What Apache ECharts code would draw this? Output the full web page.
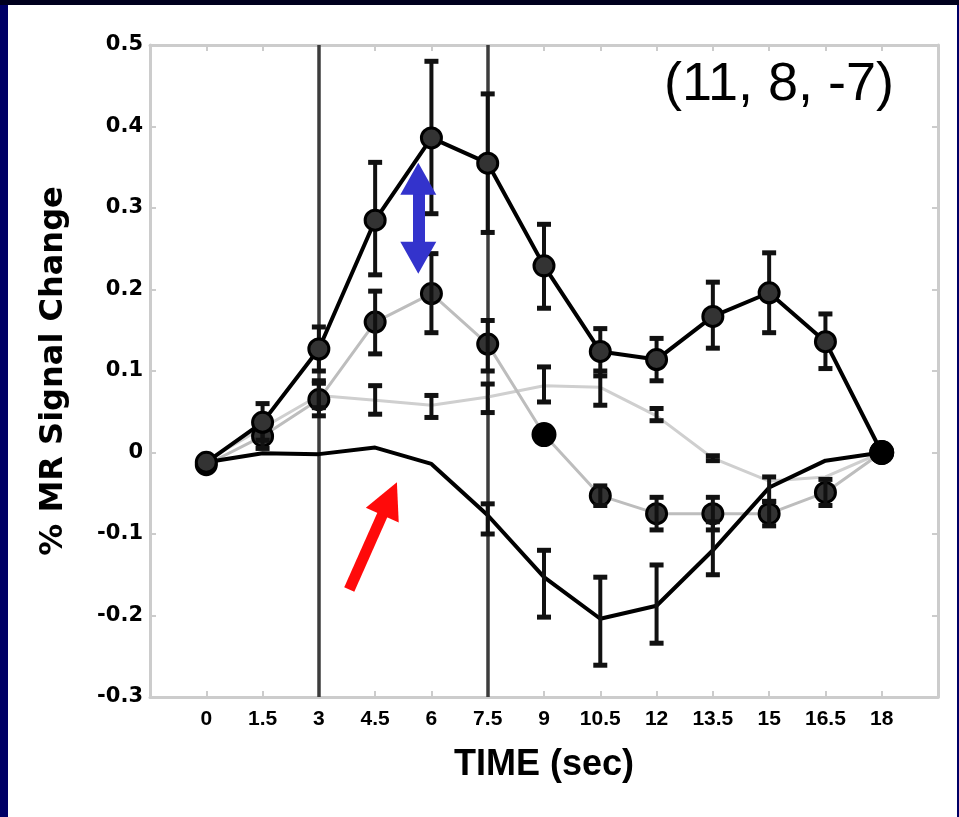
<!DOCTYPE html>
<html>
<head>
<meta charset="utf-8">
<script src="https://cdn.jsdelivr.net/npm/echarts@6/dist/echarts.min.js"></script>
<style>
  html, body { margin:0; padding:0; width:959px; height:817px; background:#000066; overflow:hidden; }
  #topstrip { position:absolute; left:0; top:0; width:959px; height:5px; background:#00001e; }
  #paper { position:absolute; left:8px; top:5px; width:949px; height:812px; background:#ffffff; }
  #chart { position:absolute; left:0; top:0; width:959px; height:817px; }
</style>
</head>
<body>
<div id="topstrip"></div>
<div id="paper"></div>
<div id="chart"></div>
<script>
// ---- data ----
const times = [0, 1.5, 3, 4.5, 6, 7.5, 9, 10.5, 12, 13.5, 15, 16.5, 18];
const xTickLabels = ['0', '1.5', '3', '4.5', '6', '7.5', '9', '10.5', '12', '13.5', '15', '16.5', '18'];
const yTickLabels = ['-0.3', '-0.2', '-0.1', '0', '0.1', '0.2', '0.3', '0.4', '0.5'];

const blackTop      = [-0.012, 0.037, 0.127, 0.285, 0.386, 0.355, 0.229, 0.124, 0.114, 0.167, 0.196, 0.136, 0.0];
const blackTopLow   = [null, 0.015, 0.100, 0.218, 0.293, 0.270, 0.177, 0.094, 0.088, 0.128, 0.147, 0.103, null];
const blackTopHigh  = [null, 0.060, 0.154, 0.356, 0.480, 0.440, 0.280, 0.152, 0.140, 0.209, 0.245, 0.170, null];

const grayCircle     = [-0.015, 0.020, 0.065, 0.160, 0.195, 0.133, 0.022, -0.053, -0.075, -0.075, -0.075, -0.049, 0.0];
const grayCircleLow  = [null, 0.005, 0.045, 0.121, 0.147, 0.100, null, -0.065, -0.095, -0.095, -0.090, -0.065, null];
const grayCircleHigh = [null, 0.035, 0.085, 0.198, 0.244, 0.162, null, -0.041, -0.055, -0.055, -0.060, -0.033, null];

const grayFlat     = [-0.010, 0.030, 0.070, 0.064, 0.058, 0.068, 0.082, 0.080, 0.045, -0.007, -0.035, -0.030, 0.0];
const grayFlatLow  = [null, null, 0.055, 0.047, 0.043, 0.049, 0.062, 0.058, 0.039, -0.010, null, null, null];
const grayFlatHigh = [null, null, 0.088, 0.082, 0.070, 0.084, 0.105, 0.100, 0.054, -0.004, null, null, null];

const blackBottom     = [-0.012, -0.001, -0.002, 0.006, -0.014, -0.077, -0.153, -0.204, -0.188, -0.120, -0.043, -0.010, 0.0];
const blackBottomLow  = [null, null, null, null, null, -0.100, -0.202, -0.261, -0.234, -0.150, -0.060, null, null];
const blackBottomHigh = [null, null, null, null, null, -0.063, -0.120, -0.153, -0.138, -0.085, -0.030, null, null];

const stimulusLines = [3, 7.5];
// annotation arrows (data coordinates)
const blueArrow = [[5.65, 0.336], [5.65, 0.239]];
const redArrow  = [[3.81, -0.168], [4.885, -0.0566]];
const coordLabel = '(11, 8, -7)';

// ---- build ----
const chart = echarts.init(document.getElementById('chart'), null, {renderer: 'canvas'});

function pairs(vals, solidIdx) {
  return times.map((t, i) => {
    const d = {value: [t, vals[i]]};
    if (solidIdx && solidIdx.indexOf(i) >= 0) {
      d.itemStyle = {color: '#000', borderColor: '#000'};
      d.symbolSize = 22;
    }
    return d;
  });
}
function errData(lo, hi) {
  const out = [];
  times.forEach((t, i) => { if (lo[i] !== null && hi[i] !== null) out.push([t, lo[i], hi[i]]); });
  return out;
}
const allErr = [].concat(
  errData(grayFlatLow, grayFlatHigh),
  errData(grayCircleLow, grayCircleHigh),
  errData(blackBottomLow, blackBottomHigh),
  errData(blackTopLow, blackTopHigh)
);

function renderErr(params, api) {
  const x = api.value(0), lo = api.value(1), hi = api.value(2);
  const a = api.coord([x, lo]), b = api.coord([x, hi]);
  const cw = 7;
  const st = {stroke: '#111', lineWidth: 4};
  const cap = {stroke: '#111', lineWidth: 5};
  return {type: 'group', children: [
    {type: 'line', shape: {x1: a[0], y1: a[1], x2: b[0], y2: b[1]}, style: st},
    {type: 'line', shape: {x1: a[0] - cw, y1: a[1], x2: a[0] + cw, y2: a[1]}, style: cap},
    {type: 'line', shape: {x1: b[0] - cw, y1: b[1], x2: b[0] + cw, y2: b[1]}, style: cap}
  ]};
}

const axisGray = '#cccccc';
const sansBold = '"Liberation Sans", Arial, sans-serif';

const baseX = {
  type: 'value', min: -1.5, max: 19.5, interval: 1.5,
  axisLine: {show: true, onZero: false, lineStyle: {color: axisGray, width: 3}},
  axisTick: {show: true, inside: true, length: 6, lineStyle: {color: axisGray, width: 2}},
  splitLine: {show: false}
};
const baseY = {
  type: 'value', min: -0.3, max: 0.5, interval: 0.1,
  axisLine: {show: true, onZero: false, lineStyle: {color: axisGray, width: 3}},
  axisTick: {show: true, inside: true, length: 6, lineStyle: {color: axisGray, width: 2}},
  splitLine: {show: false}
};

function xLabel(v) {
  const i = times.findIndex(t => Math.abs(t - v) < 1e-6);
  return i >= 0 ? xTickLabels[i] : '';
}
function yLabel(v) {
  const i = Math.round((v + 0.3) / 0.1);
  return yTickLabels[i] !== undefined ? yTickLabels[i] : '';
}

const option = {
  animation: false,
  backgroundColor: 'transparent',
  grid: {left: 150, right: 21, top: 45, bottom: 120, containLabel: false},
  xAxis: [
    Object.assign({}, baseX, {
      position: 'bottom',
      name: 'TIME (sec)', nameLocation: 'middle', nameGap: 50,
      nameTextStyle: {fontFamily: sansBold, fontWeight: 'bold', fontSize: 36, color: '#000'},
      axisLabel: {show: true, margin: 12, formatter: xLabel, color: '#000',
        fontFamily: sansBold, fontWeight: 'bold', fontSize: 21, showMinLabel: false, showMaxLabel: false}
    }),
    Object.assign({}, baseX, {position: 'top', axisLabel: {show: false}})
  ],
  yAxis: [
    Object.assign({}, baseY, {
      position: 'left',
      name: '% MR Signal Change', nameLocation: 'middle', nameGap: 80, nameRotate: 90,
      nameTextStyle: {fontFamily: '"DejaVu Sans", sans-serif', fontWeight: 'bold', fontSize: 32, color: '#000'},
      axisLabel: {show: true, margin: 7, formatter: yLabel, color: '#000',
        fontFamily: '"DejaVu Sans", sans-serif', fontWeight: 'bold', fontSize: 21}
    }),
    Object.assign({}, baseY, {position: 'right', axisLabel: {show: false}})
  ],
  graphic: [
    {type: 'text', left: 664, top: 58, z: 100,
     style: {text: coordLabel, fill: '#000', font: 'normal 54px "Liberation Sans", Arial, sans-serif'}}
  ],
  series: [
    { // stimulus vertical lines
      type: 'line', data: [], silent: true, z: 1,
      markLine: {
        silent: true, symbol: ['none', 'none'], z: 1,
        label: {show: false},
        lineStyle: {color: '#3c3c3c', width: 3.5, type: 'solid'},
        data: stimulusLines.map(v => ({xAxis: v}))
      }
    },
    {
      name: 'flat', type: 'line', z: 2,
      data: pairs(grayFlat), symbol: 'none',
      lineStyle: {color: '#cfcfcf', width: 3}
    },
    {
      name: 'grayCircle', type: 'line', z: 3,
      data: pairs(grayCircle, [6, 12]), symbol: 'circle', symbolSize: 20,
      itemStyle: {color: '#333333', borderColor: '#000', borderWidth: 3},
      lineStyle: {color: '#bdbdbd', width: 3}
    },
    {
      name: 'bottom', type: 'line', z: 4,
      data: pairs(blackBottom), symbol: 'none',
      lineStyle: {color: '#000', width: 4}
    },
    {
      name: 'err', type: 'custom', z: 5,
      renderItem: renderErr, data: allErr
    },
    {
      name: 'top', type: 'line', z: 6,
      data: pairs(blackTop, [12]), symbol: 'circle', symbolSize: 20,
      itemStyle: {color: '#333333', borderColor: '#000', borderWidth: 3},
      lineStyle: {color: '#000', width: 4}
    },
    { // annotation arrows
      type: 'line', data: [], silent: true, z: 10,
      markLine: {
        silent: true, z: 10, label: {show: false},
        data: [
          [
            {coord: blueArrow[0], symbol: 'triangle', symbolSize: [36, 32], lineStyle: {color: '#3333cc', width: 12, type: 'solid'}},
            {coord: blueArrow[1], symbol: 'triangle', symbolSize: [36, 32]}
          ],
          [
            {coord: redArrow[0], symbol: 'none', lineStyle: {color: '#ff0a0a', width: 11, type: 'solid'}},
            {coord: redArrow[1], symbol: 'triangle', symbolSize: [36, 36]}
          ]
        ]
      }
    }
  ]
};
chart.setOption(option);
</script>
</body>
</html>
